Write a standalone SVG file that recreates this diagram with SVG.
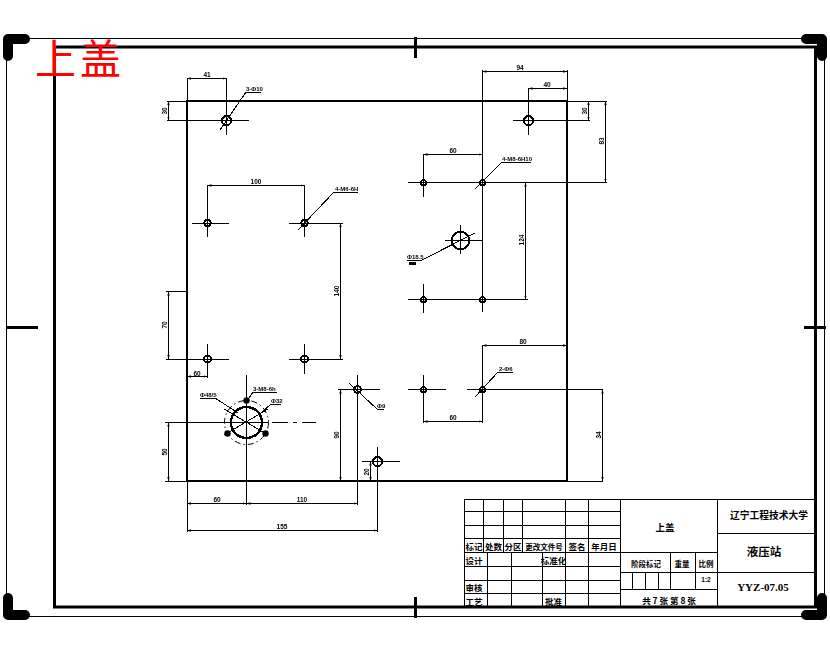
<svg xmlns="http://www.w3.org/2000/svg" width="830" height="654" viewBox="0 0 830 654">
<defs>
<marker id="a" viewBox="0 0 4 4" refX="4" refY="2" markerWidth="4" markerHeight="4" markerUnits="userSpaceOnUse" orient="auto-start-reverse"><path d="M0 0.8L4 2L0 3.2Z" fill="#000"/></marker>
</defs>
<style>
line,path.l,polyline{fill:none;stroke:#000;stroke-width:1;shape-rendering:crispEdges}
.blob{fill:none;stroke:#000;stroke-width:10;stroke-linecap:round;stroke-linejoin:round}
line.tick{stroke-width:3}
.part{fill:none;stroke:#000;stroke-width:2.4;shape-rendering:crispEdges}
.hole{fill:none;stroke:#000;stroke-width:2;shape-rendering:crispEdges}
.dim{marker-start:url(#a);marker-end:url(#a)}
text{fill:#000;font-family:"Liberation Sans","Noto Sans CJK SC",sans-serif;text-anchor:middle}
.d{font-size:6.5px;font-weight:700}
.c{font-family:"Noto Sans CJK SC",sans-serif;font-size:8.5px;font-weight:700}
.s{font-size:6px;font-weight:700;text-anchor:start}
.red{fill:#f00;font-family:"Noto Sans CJK SC",sans-serif;font-size:41px;font-weight:400;text-anchor:start;letter-spacing:4px}
.g{opacity:.999}
</style>
<g id="sheet-frame">
<rect x="6.5" y="38.5" width="818" height="578" fill="none" stroke="#000" stroke-width="1"/>
<rect x="54.5" y="47" width="761" height="560" fill="none" stroke="#000" stroke-width="3"/>
<path class="blob" d="M25 39H8V56M806 39H822V56M8 598V615H25M806 615H822V598"/>
<line class="tick" x1="415" y1="37" x2="415" y2="58"/>
<line class="tick" x1="415" y1="597" x2="415" y2="618"/>
<line class="tick" x1="6" y1="327" x2="38" y2="327"/>
<line class="tick" x1="804" y1="327" x2="826" y2="327"/>
</g>
<text class="red g" x="35" y="74">上盖</text>
<g id="part-outline"><rect class="part" x="187" y="101" width="380" height="380"/></g>
<g id="connectors">
<!-- extension and centre lines -->
<path class="l" d="M167 101H187M187 78V101M167 120.5H249M226.5 78V135"/>
<path class="l" d="M192 223H229M207.5 185V237M289 223H343M304.5 185V237"/>
<path class="l" d="M192 359H229M207.5 344V378M166 359H192M289 359H343M304.5 344V374M166 291.5H187"/>
<path class="l" d="M165 422.5H268M272 422.5H288M293 422.5H297M302 422.5H316M246.5 375V505M165 481H187M187 481V532"/>
<path class="l" d="M338 389.5H380M357.5 375V505M362 461.5H400M377.5 447V532M224 435L268 409M224 409L268 435"/>
<path class="l" d="M513 120.5H590M528.5 88V135M567 70V101M482.5 70V312M567 101H607M408 182.5H607M423.5 154V197"/>
<path class="l" d="M408 299.5H528M423.5 284V313M445 240.5H482M460.5 225V254"/>
<path class="l" d="M408 389.5H446M467 389.5H603M423.5 375V423M482.5 345V423M567 481H603"/>
<!-- dimension lines -->
<line class="dim" x1="187" y1="78.5" x2="226.5" y2="78.5"/>
<line class="dim" x1="168.5" y1="101" x2="168.5" y2="120.5"/>
<line class="dim" x1="207.5" y1="185.5" x2="304.5" y2="185.5"/>
<line class="dim" x1="168.5" y1="291.5" x2="168.5" y2="359"/>
<line class="dim" x1="340.5" y1="223" x2="340.5" y2="359"/>
<line class="dim" x1="187" y1="376.5" x2="207.5" y2="376.5"/>
<line class="dim" x1="168.5" y1="422.5" x2="168.5" y2="481"/>
<line class="dim" x1="187" y1="503.5" x2="246.5" y2="503.5"/>
<line class="dim" x1="246.5" y1="503.5" x2="357.5" y2="503.5"/>
<line class="dim" x1="187" y1="530.5" x2="377.5" y2="530.5"/>
<line class="dim" x1="340.5" y1="389.5" x2="340.5" y2="481"/>
<line class="dim" x1="370.5" y1="461.5" x2="370.5" y2="481"/>
<line class="dim" x1="482.5" y1="71.5" x2="567" y2="71.5"/>
<line class="dim" x1="528.5" y1="88.5" x2="567" y2="88.5"/>
<line class="dim" x1="588.5" y1="101" x2="588.5" y2="120.5"/>
<line class="dim" x1="605.5" y1="101" x2="605.5" y2="182.5"/>
<line class="dim" x1="423.5" y1="154.5" x2="482.5" y2="154.5"/>
<line class="dim" x1="525.5" y1="182.5" x2="525.5" y2="299.5"/>
<line class="dim" x1="482.5" y1="345.5" x2="567" y2="345.5"/>
<line class="dim" x1="423.5" y1="421.5" x2="482.5" y2="421.5"/>
<line class="dim" x1="602.5" y1="389.5" x2="602.5" y2="481"/>
<!-- leaders -->
<polyline points="220,130 246,92 261,92"/>
<polyline points="298,230 334,192 358,192"/>
<polyline points="475,189 502,162 531,162"/>
<polyline points="475,233 422,260 407,260"/>
<polyline points="475,397 498,372 513,372"/>
<polyline points="349,383 377,409 384,409"/>
<polyline points="238,413 215,398 200,398"/>
<polyline points="262,412 271,404 281,404"/>
<polyline points="247,401 253,392 277,392"/>
</g>
<g id="holes">
<circle class="hole" cx="226.500" cy="120.500" r="4.500"/>
<circle class="hole" cx="207.500" cy="223" r="3.200"/>
<circle class="hole" cx="304.500" cy="223" r="3.200"/>
<circle class="hole" cx="207.500" cy="359" r="3.500"/>
<circle class="hole" cx="304.500" cy="359" r="3.500"/>
<circle class="hole" cx="357.500" cy="389.500" r="3.500"/>
<circle class="hole" cx="377.500" cy="461.500" r="4.500"/>
<circle class="hole" cx="528.500" cy="120.500" r="4.500"/>
<circle class="hole" cx="423.500" cy="182.500" r="2.500"/>
<circle class="hole" cx="482.500" cy="182.500" r="2.500"/>
<circle class="hole" cx="423.500" cy="299.500" r="2.500"/>
<circle class="hole" cx="482.500" cy="299.500" r="2.500"/>
<circle class="hole" cx="423.500" cy="389.500" r="2.500"/>
<circle class="hole" cx="482.500" cy="389.500" r="2.500"/>
<circle class="hole" cx="460.500" cy="240.500" r="8.800"/>
<circle class="hole" cx="246.500" cy="422.500" r="15.500" style="stroke-width:2.400"/>
<circle cx="246.500" cy="422.500" r="22" fill="none" stroke="#000" stroke-width="1" stroke-dasharray="6 3 1.500 3"/>
<circle cx="246.500" cy="400.500" r="3.200" fill="#000"/>
<circle cx="227.500" cy="433.500" r="3.200" fill="#000"/>
<circle cx="265.500" cy="433.500" r="3.200" fill="#000"/>
</g>
<g id="dim-labels" class="g">
<text class="d" x="207" y="77">41</text>
<text class="d" transform="translate(167 111) rotate(-90)">30</text>
<text class="d" x="256" y="183.500">100</text>
<text class="d" transform="translate(339 291) rotate(-90)">140</text>
<text class="d" transform="translate(167 325) rotate(-90)">70</text>
<text class="d" x="197" y="375.500">60</text>
<text class="d" transform="translate(167 452) rotate(-90)">50</text>
<text class="d" x="217" y="502">60</text>
<text class="d" x="302" y="502">110</text>
<text class="d" x="282" y="529">155</text>
<text class="d" transform="translate(339 435) rotate(-90)">90</text>
<text class="d" transform="translate(369 472) rotate(-90)">20</text>
<text class="d" x="520" y="70">94</text>
<text class="d" x="547" y="87">40</text>
<text class="d" transform="translate(587 111) rotate(-90)">30</text>
<text class="d" transform="translate(604 141) rotate(-90)">83</text>
<text class="d" x="453" y="153">60</text>
<text class="d" transform="translate(524 240) rotate(-90)">124</text>
<text class="d" x="523" y="344">80</text>
<text class="d" x="453" y="420">60</text>
<text class="d" transform="translate(601 435) rotate(-90)">34</text>
<text class="s" x="246" y="91">3-Φ10</text>
<text class="s" x="335" y="191">4-M6-6H</text>
<text class="s" x="502" y="161">4-M8-6H10</text>
<text class="s" x="407" y="259">Φ18.5</text>
<rect x="409" y="262" width="7" height="3" fill="#000"/>
<text class="s" x="499" y="371">2-Φ6</text>
<text class="s" x="377" y="408">Φ9</text>
<text class="s" x="200" y="397">Φ48/5</text>
<text class="s" x="271" y="403">Φ32</text>
<text class="s" x="253" y="391">3-M8-6h</text>
</g>
<g id="title-block" class="g">
<path class="l" d="M464.500 499H815M464.500 511.500H620.500M464.500 525H620.500M464.500 538.500H620.500M464.500 552.500H717.500M464.500 566H620.500M464.500 580H620.500M464.500 593.500H620.500"/>
<path class="l" d="M464.500 499V607M483.500 499V552M503.500 499V552M522.500 499V552M565.500 499V607M588.500 499V607M620.500 499V607M487.500 552V607M511.500 552V607M542.500 552V607"/>
<path class="l" d="M717.500 499V607M717.500 533.500H815M620.500 572.500H815M620.500 589.500H717.500M670.500 552V589M695.500 552V589M632.500 572V589M645.500 572V589M658.500 572V589"/>
<text class="c" x="474" y="549.500">标记</text>
<text class="c" x="493.500" y="549.500">处数</text>
<text class="c" x="513" y="549.500">分区</text>
<text class="c" x="544" y="549.500" style="font-size:7.500px">更改文件号</text>
<text class="c" x="577" y="549.500">签名</text>
<text class="c" x="604" y="549.500">年月日</text>
<text class="c" x="474" y="563.500">设计</text>
<text class="c" x="553.500" y="563.500">标准化</text>
<text class="c" x="474" y="590.500">审核</text>
<text class="c" x="474" y="604.500">工艺</text>
<text class="c" x="553.500" y="604.500">批准</text>
<text class="c" x="665" y="531" style="font-size:9.500px">上盖</text>
<text class="c" x="769" y="519" style="font-size:9.750px">辽宁工程技术大学</text>
<text class="c" x="764" y="556" style="font-size:11.500px">液压站</text>
<text class="c" x="646" y="567" style="font-size:7.500px">阶段标记</text>
<text class="c" x="682" y="567" style="font-size:7.500px">重量</text>
<text class="c" x="706" y="567" style="font-size:7.500px">比例</text>
<text class="d" x="706" y="582">1:2</text>
<text class="c" x="669" y="604">共 7 张 第 8 张</text>
<text x="763" y="591" style="font-family:'Liberation Serif',serif;font-size:11px;font-weight:700">YYZ-07.05</text>
</g>
</svg>
